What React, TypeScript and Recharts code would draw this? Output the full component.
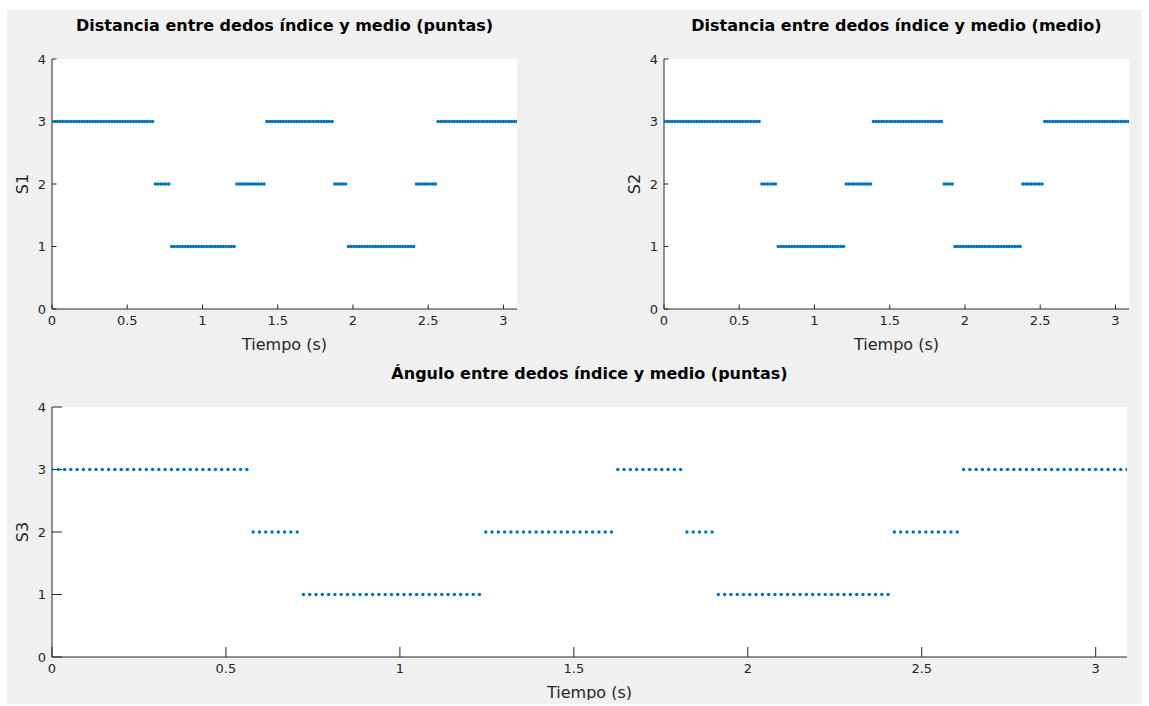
import { ScatterChart, Scatter, XAxis, YAxis, CartesianGrid } from 'recharts'

// sampling of the recording (s) and visible time range
const SAMPLE_DT = 0.01807
const X_MAX = 3.09
const X_TICKS = [0, 0.5, 1, 1.5, 2, 2.5, 3]
const Y_TICKS = [0, 1, 2, 3, 4]

// [state, number of consecutive samples]
const S1_RUNS = [[3, 38], [2, 6], [1, 24], [2, 11], [3, 25], [2, 5], [1, 25], [2, 8], [3, 30]]
const S2_RUNS = [[3, 36], [2, 6], [1, 25], [2, 10], [3, 26], [2, 4], [1, 25], [2, 8], [3, 32]]
const S3_RUNS = [[3, 32], [2, 8], [1, 29], [2, 21], [3, 11], [2, 5], [1, 28], [2, 11], [3, 27]]

const BLUE = '#0072bd'
const AXIS = '#262626'
const FONT = 'DejaVu Sans, sans-serif'

const expand = (runs: number[][]) => {
  const out: { t: number; s: number }[] = []
  runs.forEach(([v, n]) => {
    for (let k = 0; k < n; k++) out.push({ t: out.length * SAMPLE_DT, s: v })
  })
  return out
}

const Dot = (props: any) => {
  if (props.cx == null || props.cy == null) return null
  return <circle cx={props.cx} cy={props.cy} r={1.7} fill={BLUE} />
}

interface PanelProps {
  left: number
  top: number
  width: number
  height: number
  margin: { top: number; right: number; left: number; bottom: number }
  xAxisHeight: number
  tickLen: number
  title: string
  yLabel: string
  data: { t: number; s: number }[]
}

function Panel({ left, top, width, height, margin, xAxisHeight, tickLen, title, yLabel, data }: PanelProps) {
  const plotW = width - margin.left - margin.right - 52
  const tickStyle = { fontSize: 13, fill: AXIS, fontFamily: FONT }

  const xLabel = (p: any) => {
    const vb = p.viewBox || {}
    const cx = vb.x + vb.width / 2
    const cy = vb.y + 35
    return (
      <text x={cx} y={cy} textAnchor="middle" dominantBaseline="central" fontSize={16} fill={AXIS} fontFamily={FONT}>
        Tiempo (s)
      </text>
    )
  }

  const yLab = (p: any) => {
    const vb = p.viewBox || {}
    const cx = vb.x + 22
    const cy = vb.y + vb.height / 2
    return (
      <text x={cx} y={cy} transform={`rotate(-90, ${cx}, ${cy})`} textAnchor="middle" dominantBaseline="central" fontSize={16} fill={AXIS} fontFamily={FONT}>
        {yLabel}
      </text>
    )
  }

  return (
    <div style={{ position: 'absolute', left, top, width, height }}>
      <div
        style={{
          position: 'absolute',
          left: margin.left + 52,
          width: plotW,
          top: margin.top - 41,
          textAlign: 'center',
          fontFamily: FONT,
          fontWeight: 'bold',
          fontSize: 16,
          lineHeight: '16px',
          color: '#000',
          whiteSpace: 'nowrap',
        }}
      >
        {title}
      </div>
      <ScatterChart width={width} height={height} margin={margin}>
        <CartesianGrid horizontal={false} vertical={false} fill="#ffffff" stroke="none" />
        <XAxis
          type="number"
          dataKey="t"
          domain={[0, X_MAX]}
          ticks={X_TICKS}
          interval={0}
          allowDataOverflow
          height={xAxisHeight}
          tickSize={-tickLen}
          tickMargin={tickLen + 7}
          tick={tickStyle}
          axisLine={{ stroke: AXIS }}
          tickLine={{ stroke: AXIS }}
          label={xLabel}
        />
        <YAxis
          type="number"
          dataKey="s"
          domain={[0, 4]}
          ticks={Y_TICKS}
          interval={0}
          width={52}
          tickSize={-tickLen}
          tickMargin={tickLen + 6}
          tick={tickStyle}
          axisLine={{ stroke: AXIS }}
          tickLine={{ stroke: AXIS }}
          label={yLab}
        />
        <Scatter data={data} shape={Dot} isAnimationActive={false} />
      </ScatterChart>
    </div>
  )
}

export default function App() {
  return (
    <div>
      <div style={{ position: 'absolute', left: 7, top: 10, width: 1135, height: 694, background: '#f0f0f0' }} />
      <Panel
        left={0}
        top={0}
        width={560}
        height={360}
        margin={{ top: 59, right: 43, left: 0, bottom: 0 }}
        xAxisHeight={51}
        tickLen={4.5}
        title="Distancia entre dedos índice y medio (puntas)"
        yLabel="S1"
        data={expand(S1_RUNS)}
      />
      <Panel
        left={612}
        top={0}
        width={530}
        height={360}
        margin={{ top: 59, right: 13, left: 0, bottom: 0 }}
        xAxisHeight={51}
        tickLen={4.5}
        title="Distancia entre dedos índice y medio (medio)"
        yLabel="S2"
        data={expand(S2_RUNS)}
      />
      <Panel
        left={0}
        top={350}
        width={1142}
        height={350}
        margin={{ top: 57, right: 15, left: 0, bottom: 0 }}
        xAxisHeight={43}
        tickLen={10}
        title="Ángulo entre dedos índice y medio (puntas)"
        yLabel="S3"
        data={expand(S3_RUNS)}
      />
    </div>
  )
}
